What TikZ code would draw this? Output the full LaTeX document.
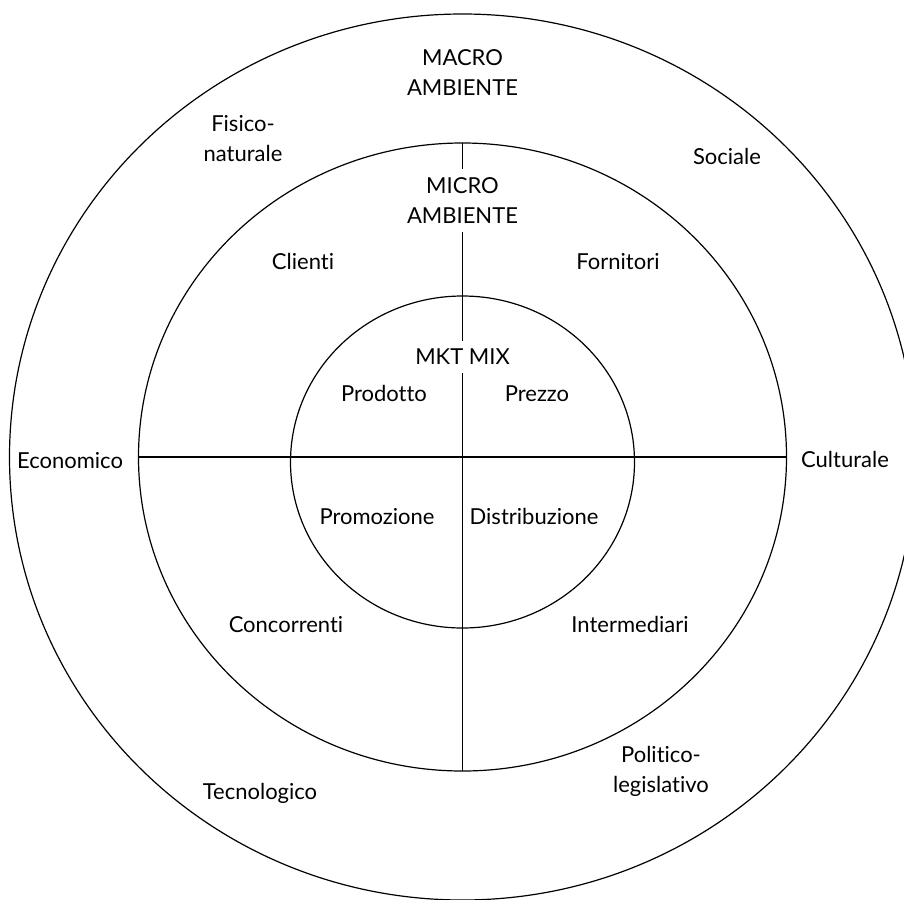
\documentclass[tikz,border=0pt]{standalone}
\usepackage{fontspec}
\setmainfont{Lato}[Ligatures={NoCommon}]
\usetikzlibrary{shapes.geometric}
\begin{document}
\begin{tikzpicture}[x=1pt,y=-1pt,
  ring/.style={draw, ellipse, line width=1.2pt, inner sep=0pt, outer sep=0pt},
  lbl/.style={font=\fontsize{22}{30}\selectfont, inner sep=0pt},
  one/.style={lbl, text height=15.6pt, text depth=0pt},
  two/.style={lbl, align=center},
  gap/.style={two, inner ysep=8pt},
  rule/.style={line width=1.2pt}]
\useasboundingbox (0,0) rectangle (904,899);
\clip (0,0) rectangle (904,899);

% three nested environments
\node[ring, minimum width=906pt, minimum height=886pt] (macro) at (462.5,457) {};
\node[ring, minimum width=648pt, minimum height=628pt] (micro) at (462.5,457) {};
\node[ring, minimum width=344pt, minimum height=332pt] (mix) at (462.5,462) {};

% headings on the vertical axis
\node[two] (macrolbl) at (462.5,72.5) {MACRO\\AMBIENTE};
\node[gap] (microlbl) at (462.5,200.5) {MICRO\\AMBIENTE};
\node[gap, text height=15.6pt, text depth=0pt] (mixlbl) at (462.5,357) {MKT MIX};

% axes dividing the quadrants
\draw[rule] (micro.west) -- (micro.east);
\draw[rule] (micro.north) -- (microlbl.north);
\draw[rule] (microlbl.south) -- (mixlbl.north);
\draw[rule] (mixlbl.south) -- (micro.south);

% marketing mix
\node[one] (prodotto) at (384,394) {Prodotto};
\node[one] (prezzo) at (537,394) {Prezzo};
\node[one] (promozione) at (377,517) {Promozione};
\node[one] (distribuzione) at (534,517) {Distribuzione};

% micro environment
\node[one] (clienti) at (303,262) {Clienti};
\node[one] (fornitori) at (618,262) {Fornitori};
\node[one] (concorrenti) at (286,625) {Concorrenti};
\node[one] (intermediari) at (630,625) {Intermediari};

% macro environment
\node[two] (fisico) at (243,138.5) {Fisico-\\naturale};
\node[one] (sociale) at (727,157) {Sociale};
\node[one] (economico) at (70,461) {Economico};
\node[one] (culturale) at (845,460) {Culturale};
\node[one] (tecnologico) at (260,792) {Tecnologico};
\node[two] (politico) at (661,771) {Politico-\\legislativo};
\end{tikzpicture}
\end{document}
